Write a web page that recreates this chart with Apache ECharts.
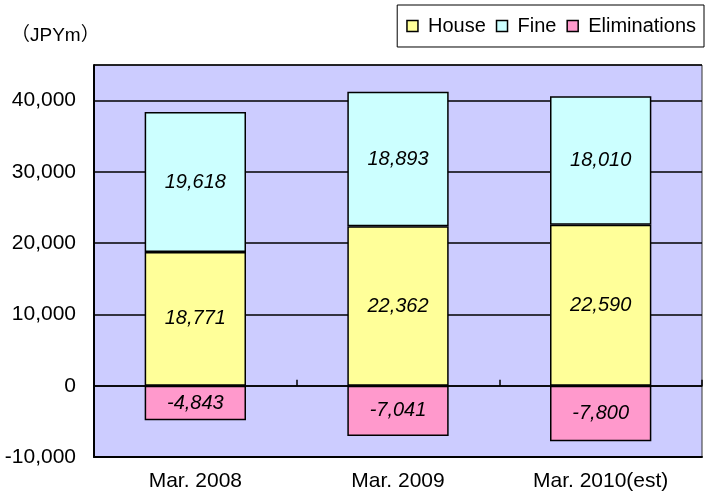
<!DOCTYPE html>
<html><head><meta charset="utf-8">
<script src="https://cdn.jsdelivr.net/npm/echarts@6/dist/echarts.min.js"></script>
<style>html,body{margin:0;padding:0;background:#fff}#c{width:705px;height:498px}</style>
</head><body><div id="c"></div>
<script>
var categories = ['Mar. 2008', 'Mar. 2009', 'Mar. 2010(est)'];
var house = [18771, 22362, 22590];
var fine = [19618, 18893, 18010];
var eliminations = [-4843, -7041, -7800];
var seriesNames = ['House', 'Fine', 'Eliminations'];
var colors = ['#FFFF99', '#CCFFFF', '#FF99CC'];
var unitLabel = '（JPYm）';

function fmt(v) { return Number(v).toLocaleString('en-US'); }
var font = '"Liberation Sans", Arial, "Noto Sans CJK JP", sans-serif';
var chart = echarts.init(document.getElementById('c'), null, {renderer: 'canvas'});

function mk(name, data, color) {
  return {
    name: name, type: 'bar', stack: 'total', data: data, xAxisIndex: 0,
    barWidth: '50%',
    itemStyle: {color: color, borderColor: '#000', borderWidth: 1.5},
    label: {show: true, position: 'inside', fontStyle: 'italic', fontSize: 20,
      fontFamily: font, color: '#000', formatter: function (p) { return fmt(p.value); }},
    emphasis: {disabled: true}
  };
}

chart.setOption({
  animation: false,
  textStyle: {fontFamily: font},
  title: {text: unitLabel, left: 6, top: 21,
    textStyle: {fontSize: 19, fontWeight: 'normal', color: '#000', fontFamily: font}},
  legend: {
    data: seriesNames, right: 1, top: 5,
    borderColor: '#000', borderWidth: 1, padding: [11, 8, 11, 9],
    itemWidth: 11, itemHeight: 11, itemGap: 10, icon: 'rect',
    itemStyle: {borderColor: '#000', borderWidth: 1.5},
    textStyle: {fontSize: 20, color: '#000', fontFamily: font, padding: [0, 0, 0, 5]}
  },
  grid: {left: 94, right: 3, top: 65, bottom: 41, show: true,
    backgroundColor: '#CCCCFF', borderColor: '#333', borderWidth: 1},
  xAxis: [{
    type: 'category', data: categories,
    axisLine: {show: true, onZero: true, lineStyle: {color: '#000', width: 1.5}},
    axisTick: {show: true, inside: true, length: 6, lineStyle: {color: '#000', width: 1.5}},
    axisLabel: {show: false}, splitLine: {show: false}
  }, {
    type: 'category', data: categories, position: 'bottom',
    axisLine: {show: true, onZero: false, lineStyle: {color: '#000', width: 2}},
    axisTick: {show: false},
    axisLabel: {show: true, fontSize: 21, color: '#000', margin: 14, fontFamily: font}
  }],
  yAxis: {
    type: 'value', min: -10000, max: 45000, interval: 10000,
    axisLine: {show: true, lineStyle: {color: '#000', width: 2}},
    axisTick: {show: false},
    axisLabel: {fontSize: 21, color: '#000', margin: 18, fontFamily: font,
      showMaxLabel: false, formatter: function (v) { return v === 45000 ? '' : fmt(v); }},
    splitLine: {show: true, lineStyle: {color: '#000', width: 1.5}}
  },
  series: [
    mk(seriesNames[0], house, colors[0]),
    mk(seriesNames[1], fine, colors[1]),
    mk(seriesNames[2], eliminations, colors[2])
  ]
});
</script></body></html>
